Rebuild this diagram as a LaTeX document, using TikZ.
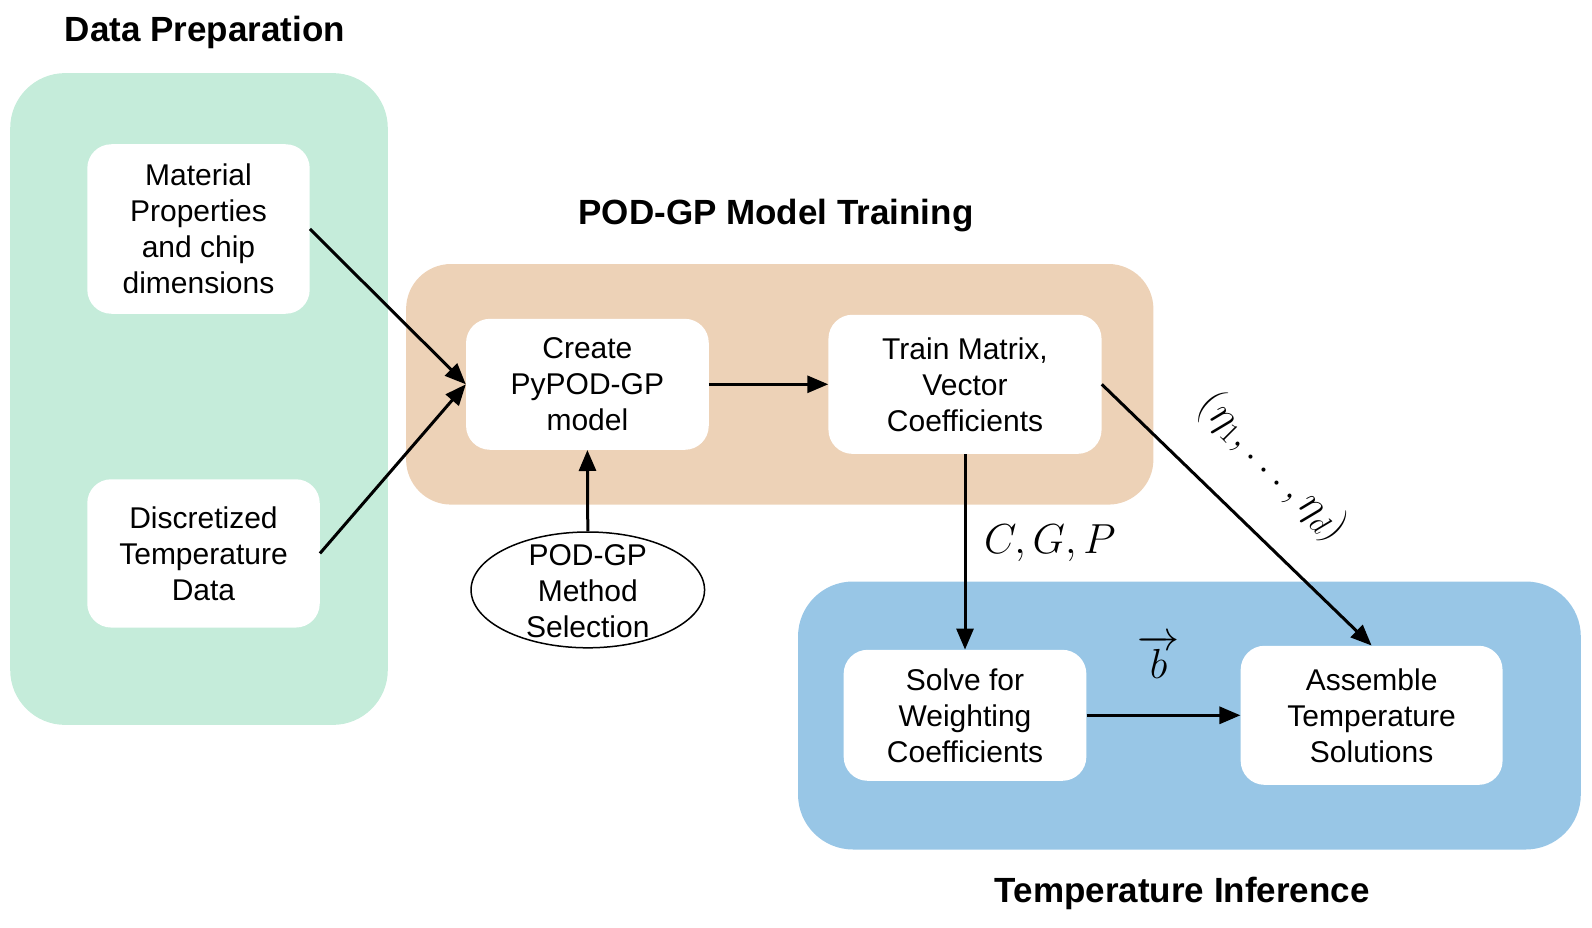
\RequirePackage{fix-cm}
\documentclass[tikz,border=0pt]{standalone}
\usepackage{fontspec}
\setmainfont{Liberation Sans}
\usetikzlibrary{arrows.meta,shapes.geometric}
\definecolor{cgreen}{RGB}{197,236,218}
\definecolor{corange}{RGB}{237,210,183}
\definecolor{cblue}{RGB}{152,198,230}
\begin{document}
\begin{tikzpicture}[x=1pt,y=-1pt,
  grp/.style={rounded corners=55pt, draw=none, inner sep=0pt},
  wbox/.style={fill=white, rounded corners=24pt, align=center, font=\fontsize{30}{36}\selectfont, inner sep=0pt},
  ttl/.style={font=\fontsize{35}{42}\selectfont\bfseries, anchor=base, inner sep=0pt},
  arr/.style={line width=3pt, -{Triangle[length=21pt,width=17pt]}},
  lbl/.style={font=\fontsize{42}{50}\selectfont},
  ell/.style={ellipse, draw=black, line width=1.5pt, fill=white, inner sep=0pt}
]
\useasboundingbox (0,0) rectangle (1592,928);
% group backgrounds
\node[grp, fill=cgreen, minimum width=377.6pt, minimum height=651.8pt] (gprep) at (199,399) {};
\node[grp, fill=corange, minimum width=747.3pt, minimum height=240.6pt, rounded corners=45pt] (gtrain) at (779.75,384.3) {};
\node[grp, fill=cblue, minimum width=782.8pt, minimum height=268pt] (ginf) at (1189.4,715.5) {};
% titles
\node[ttl] (t1) at (205,42) {Data Preparation};
\node[ttl] (t2) at (776,225) {POD-GP Model Training};
\node[ttl] (t3) at (1182.3,902) {Temperature Inference};
% boxes
\node[wbox, minimum width=222.4pt, minimum height=169.5pt] (mat) at (198.5,229) {Material\\Properties\\and chip\\dimensions};
\node[wbox, minimum width=232.5pt, minimum height=148.3pt] (disc) at (203.5,553.4) {Discretized\\Temperature\\Data};
\node[wbox, minimum width=242.7pt, minimum height=131pt] (create) at (587.4,384.3) {Create\\PyPOD-GP\\model};
\node[wbox, minimum width=273.1pt, minimum height=139.1pt] (train) at (965,384.3) {Train Matrix,\\Vector\\Coefficients};
\node[wbox, minimum width=242.7pt, minimum height=131pt] (solve) at (965,715.3) {Solve for\\Weighting\\Coefficients};
\node[wbox, minimum width=261.9pt, minimum height=139.1pt] (asm) at (1371.6,715.3) {Assemble\\Temperature\\Solutions};
\node[ell, minimum width=233.5pt, minimum height=115.8pt] (meth) at (587.8,589.9) {};
\node[align=center, font=\fontsize{30}{36}\selectfont, inner sep=0pt] (methtxt) at (587.8,591.6) {POD-GP\\Method\\Selection};
% connectors
\draw[arr] (mat.east) -- (create.west);
\draw[arr] (disc.east) -- (create.west);
\draw[arr] (create.east) -- (train.west);
\draw[arr] (meth.north) -- (create.south);
\draw[arr] (train.south) -- (solve.north);
\draw[arr] (train.east) -- (asm.north);
\draw[arr] (solve.east) -- (asm.west);
% labels
\node[lbl] (cgp) at (1050,543.2) {$C,G,P$};
\node[lbl] (bvec) at (1158.5,657) {$\overrightarrow{b}$};
\node[lbl, rotate=-45] (eta) at (1273,467) {$(\eta_1,\ldots,\eta_d)$};
\end{tikzpicture}
\end{document}
